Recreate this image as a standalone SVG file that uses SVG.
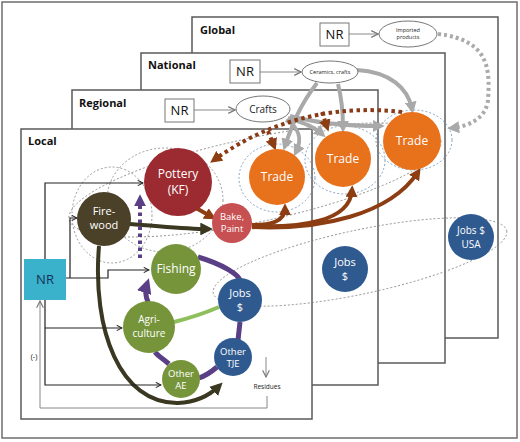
<svg xmlns="http://www.w3.org/2000/svg" width="520" height="442" viewBox="0 0 520 442">
<defs>
<style>
.panel{fill:#fff;stroke:#5a5a5a;stroke-width:1.5}
.plabel{font-family:"Open Sans","Liberation Sans",sans-serif;font-weight:bold;font-size:11px;fill:#111}
.nrbox{fill:#fff;stroke:#777;stroke-width:1}
.nrtxt{font-family:"Open Sans","Liberation Sans",sans-serif;font-size:13px;fill:#111;text-anchor:middle}
.ell{fill:#fff;stroke:#777;stroke-width:1}
.small{font-family:"Open Sans","Liberation Sans",sans-serif;font-size:5.5px;fill:#222;text-anchor:middle}
.node{font-family:"Open Sans","Liberation Sans",sans-serif;font-size:11px;fill:#fff;text-anchor:middle}
.n12{font-size:12px}
.n10{font-size:10px}
.n9{font-size:9.5px}
.dash{fill:none;stroke:#808080;stroke-width:0.8;stroke-dasharray:2 2}
.dashb{fill:none;stroke:#6b8db3;stroke-width:0.8;stroke-dasharray:2 2}
.thin{fill:none;stroke:#222;stroke-width:1.2}
.gthin{fill:none;stroke:#888;stroke-width:1}
.gray{fill:none;stroke:#a9a9a9;stroke-width:4}
.gdot{fill:none;stroke:#aaa;stroke-width:4;stroke-dasharray:3 3}
.bdot{fill:none;stroke:#8a3a14;stroke-width:4;stroke-dasharray:3.5 3.5}
.brown{fill:none;stroke:#8c3d12;stroke-width:4}
.dark{fill:none;stroke:#3b3822;stroke-width:4}
.purple{fill:none;stroke:#5b3f86;stroke-width:5}
.pdot{fill:none;stroke:#5b3f86;stroke-width:4;stroke-dasharray:3.5 3.5}
</style>
<marker id="aBlack" viewBox="0 0 8 8" refX="7" refY="4" markerWidth="7" markerHeight="7" markerUnits="userSpaceOnUse" orient="auto"><path d="M1,1 L7,4 L1,7" fill="none" stroke="#222" stroke-width="1.2"/></marker>
<marker id="aGray" viewBox="0 0 8 8" refX="7" refY="4" markerWidth="9" markerHeight="9" markerUnits="userSpaceOnUse" orient="auto"><path d="M1,1 L7,4 L1,7" fill="none" stroke="#777" stroke-width="1"/></marker>
<marker id="tGray" viewBox="0 0 10 10" refX="6" refY="5" markerWidth="3" markerHeight="3" orient="auto"><path d="M0,0 L10,5 L0,10 z" fill="#a9a9a9"/></marker>
<marker id="tBrown" viewBox="0 0 10 10" refX="6" refY="5" markerWidth="3" markerHeight="3" orient="auto"><path d="M0,0 L10,5 L0,10 z" fill="#8c3d12"/></marker>
<marker id="tDark" viewBox="0 0 10 10" refX="6" refY="5" markerWidth="3.2" markerHeight="3.2" orient="auto"><path d="M0,0 L10,5 L0,10 z" fill="#3b3822"/></marker>
<marker id="tPurple" viewBox="0 0 10 10" refX="6" refY="5" markerWidth="3" markerHeight="3" orient="auto-start-reverse"><path d="M0,0 L10,5 L0,10 z" fill="#5b3f86"/></marker>
</defs>

<rect x="2" y="2" width="515" height="436" fill="#fff" stroke="#6e6e6e" stroke-width="1.5"/>

<g id="panel-global">
<rect class="panel" x="192" y="17" width="306" height="321"/>
<text class="plabel" x="200" y="34">Global</text>
</g>
<g id="panel-national">
<rect class="panel" x="141" y="53" width="304" height="310"/>
<text class="plabel" x="148" y="69">National</text>
</g>
<g id="panel-regional">
<rect class="panel" x="72" y="90" width="306" height="295"/>
<text class="plabel" x="79" y="107">Regional</text>
</g>
<g id="panel-local">
<rect class="panel" x="21" y="129" width="291" height="290"/>
<text class="plabel" x="28" y="145">Local</text>
</g>

<g id="groupings">
<ellipse class="dash" cx="255" cy="180" rx="190" ry="42" transform="rotate(-12 255 180)"/>
<ellipse class="dash" cx="165" cy="200" rx="58" ry="52"/>
<ellipse class="dash" cx="112" cy="215" rx="40" ry="48"/>
<ellipse class="dashb" cx="277" cy="178" rx="38" ry="34"/>
<ellipse class="dashb" cx="345" cy="160" rx="40" ry="34"/>
<ellipse class="dashb" cx="414" cy="140" rx="38" ry="30"/>
<ellipse class="dash" cx="360" cy="262" rx="150" ry="32" transform="rotate(-12 360 262)"/>
</g>

<g id="connectors">
<path class="gthin" d="M349,34 L378,34" marker-end="url(#aGray)"/>
<path class="gthin" d="M260,72 L301,72" marker-end="url(#aGray)"/>
<path class="gthin" d="M194,110 L235,110" marker-end="url(#aGray)"/>
<path class="gray" d="M317,83 C300,105 292,125 285,146" marker-end="url(#tGray)"/>
<path class="gray" d="M338,84 C342,100 343,112 343,128" marker-end="url(#tGray)"/>
<path class="gray" d="M357,70 C390,72 408,88 412,109" marker-end="url(#tGray)"/>
<path class="gray" d="M288,118 C300,122 312,125 322,134" marker-end="url(#tGray)"/>
<path class="gray" d="M290,116 C320,124 350,126 380,126" marker-end="url(#tGray)"/>
<path class="gray" d="M286,120 C300,128 302,140 296,152" marker-end="url(#tGray)"/>
<path class="gdot" d="M438,34 C490,40 490,70 488,100 C486,118 470,126 452,128" marker-end="url(#tGray)"/>
<path class="bdot" d="M402,112 C340,105 290,118 250,138 C235,146 225,152 214,160" marker-end="url(#tBrown)"/>
<path class="bdot" d="M322,112 L327,127" marker-end="url(#tBrown)"/>
<path class="bdot" d="M268,131 L274,146" marker-end="url(#tBrown)"/>
<path class="brown" d="M252,225 C270,225 285,222 285,208" marker-end="url(#tBrown)"/>
<path class="brown" d="M252,226 C300,228 350,222 352,190" marker-end="url(#tBrown)"/>
<path class="brown" d="M252,227 C320,230 390,215 418,172" marker-end="url(#tBrown)"/>
<path class="brown" d="M196,208 L212,217" marker-end="url(#tBrown)"/>
<path class="dark" d="M130,224 C160,226 185,229 208,229" marker-end="url(#tDark)"/>
<path class="dark" d="M99,246 C92,330 120,404 178,403 C198,402 210,395 219,386" marker-end="url(#tDark)"/>
<path class="purple" d="M198,257 C225,265 238,275 240,280"/>
<path class="purple" d="M240,322 L238,340"/>
<path class="purple" d="M217,367 C210,373 205,376 199,378"/>
<path class="purple" d="M169,364 C162,358 158,356 155,352"/>
<path class="purple" d="M148,302 C145,295 145,290 147,284" marker-end="url(#tPurple)"/>
<path class="pdot" d="M140,258 L140,199" marker-end="url(#tPurple)"/>
<path d="M174,322 C190,318 205,313 219,307" fill="none" stroke="#8fbf5c" stroke-width="4"/>
<path class="thin" d="M45,259 L45,183 L143,183" marker-end="url(#aBlack)"/>
<path class="thin" d="M66,278 L108,278 L108,270 L149,270" marker-end="url(#aBlack)"/>
<path class="thin" d="M70,278 L70,218 L77,218" marker-end="url(#aBlack)"/>
<path class="thin" d="M45,300 L45,385 L161,385" marker-end="url(#aBlack)"/>
<path class="thin" d="M45,328 L122,328" marker-end="url(#aBlack)"/>
<path class="gthin" d="M266,357 L266,377" marker-end="url(#aGray)"/>
<path class="gthin" d="M267,396 L267,408 L40,408 L40,301" marker-end="url(#aGray)"/>
<text x="34" y="359" style="font-family:'Liberation Sans',sans-serif;font-size:7px;fill:#222" text-anchor="middle">(-)</text>
<text x="267" y="389" style="font-family:'Open Sans','Liberation Sans',sans-serif;font-size:6.5px;fill:#222" text-anchor="middle">Residues</text>
</g>

<g id="nr-global"><rect class="nrbox" x="320" y="23" width="29" height="23"/><text class="nrtxt" x="334.5" y="39">NR</text></g>
<g id="imported"><ellipse class="ell" cx="408" cy="34" rx="29" ry="13"/><text class="small" x="408" y="32">Imported</text><text class="small" x="408" y="39">products</text></g>
<g id="nr-national"><rect class="nrbox" x="230" y="60" width="30" height="23"/><text class="nrtxt" x="245" y="76">NR</text></g>
<g id="ceramics"><ellipse class="ell" cx="330" cy="72" rx="28" ry="11"/><text class="small" x="330" y="74">Ceramics, crafts</text></g>
<g id="nr-regional"><rect class="nrbox" x="165" y="99" width="29" height="23"/><text class="nrtxt" x="179.5" y="115">NR</text></g>
<g id="crafts"><ellipse class="ell" cx="263" cy="109" rx="27" ry="13"/><text x="263" y="113" text-anchor="middle" style="font-family:'Open Sans','Liberation Sans',sans-serif;font-size:10px;fill:#222">Crafts</text></g>

<g id="trade-national"><circle cx="412" cy="141" r="29" fill="#e8711c"/><text class="node n12" x="412" y="145">Trade</text></g>
<g id="trade-regional"><circle cx="343" cy="159" r="28" fill="#e8711c"/><text class="node n12" x="343" y="163">Trade</text></g>
<g id="trade-local"><circle cx="277" cy="177" r="28" fill="#e8711c"/><text class="node n12" x="277" y="181">Trade</text></g>
<g id="pottery"><circle cx="178" cy="182" r="34" fill="#9b2b30"/><text class="node n12" x="178" y="178">Pottery</text><text class="node n12" x="178" y="194">(KF)</text></g>
<g id="bake"><circle cx="232" cy="223" r="20" fill="#c65052"/><text class="node n9" x="232" y="220">Bake,</text><text class="node n9" x="232" y="232">Paint</text></g>
<g id="firewood"><circle cx="104" cy="219" r="27" fill="#4b4129"/><text class="node" x="104" y="215">Fire-</text><text class="node" x="104" y="229">wood</text></g>
<g id="nr-local"><rect x="24" y="259" width="42" height="41" fill="#3bb2cb"/><text x="45" y="284" text-anchor="middle" style="font-family:'Open Sans','Liberation Sans',sans-serif;font-size:13px;fill:#15315a">NR</text></g>
<g id="fishing"><circle cx="176" cy="269" r="25" fill="#76953a"/><text class="node n12" x="176" y="273">Fishing</text></g>
<g id="agri"><circle cx="149" cy="327" r="26" fill="#76953a"/><text class="node n10" x="149" y="323">Agri-</text><text class="node n10" x="149" y="337">culture</text></g>
<g id="other-ae"><circle cx="181" cy="379" r="19" fill="#76953a"/><text class="node n9" x="181" y="377">Other</text><text class="node n9" x="181" y="389">AE</text></g>
<g id="jobs-local"><circle cx="240" cy="300" r="22" fill="#2f5a90"/><text class="node" x="240" y="297">Jobs</text><text class="node" x="240" y="311">$</text></g>
<g id="other-tje"><circle cx="233" cy="357" r="19" fill="#2f5a90"/><text class="node n9" x="233" y="355">Other</text><text class="node n9" x="233" y="367">TJE</text></g>
<g id="jobs-regional"><circle cx="345" cy="269" r="23" fill="#2f5a90"/><text class="node" x="345" y="266">Jobs</text><text class="node" x="345" y="280">$</text></g>
<g id="jobs-global"><circle cx="471" cy="237" r="23" fill="#2f5a90"/><text class="node n10" x="471" y="234">Jobs $</text><text class="node n10" x="471" y="248">USA</text></g>
</svg>
